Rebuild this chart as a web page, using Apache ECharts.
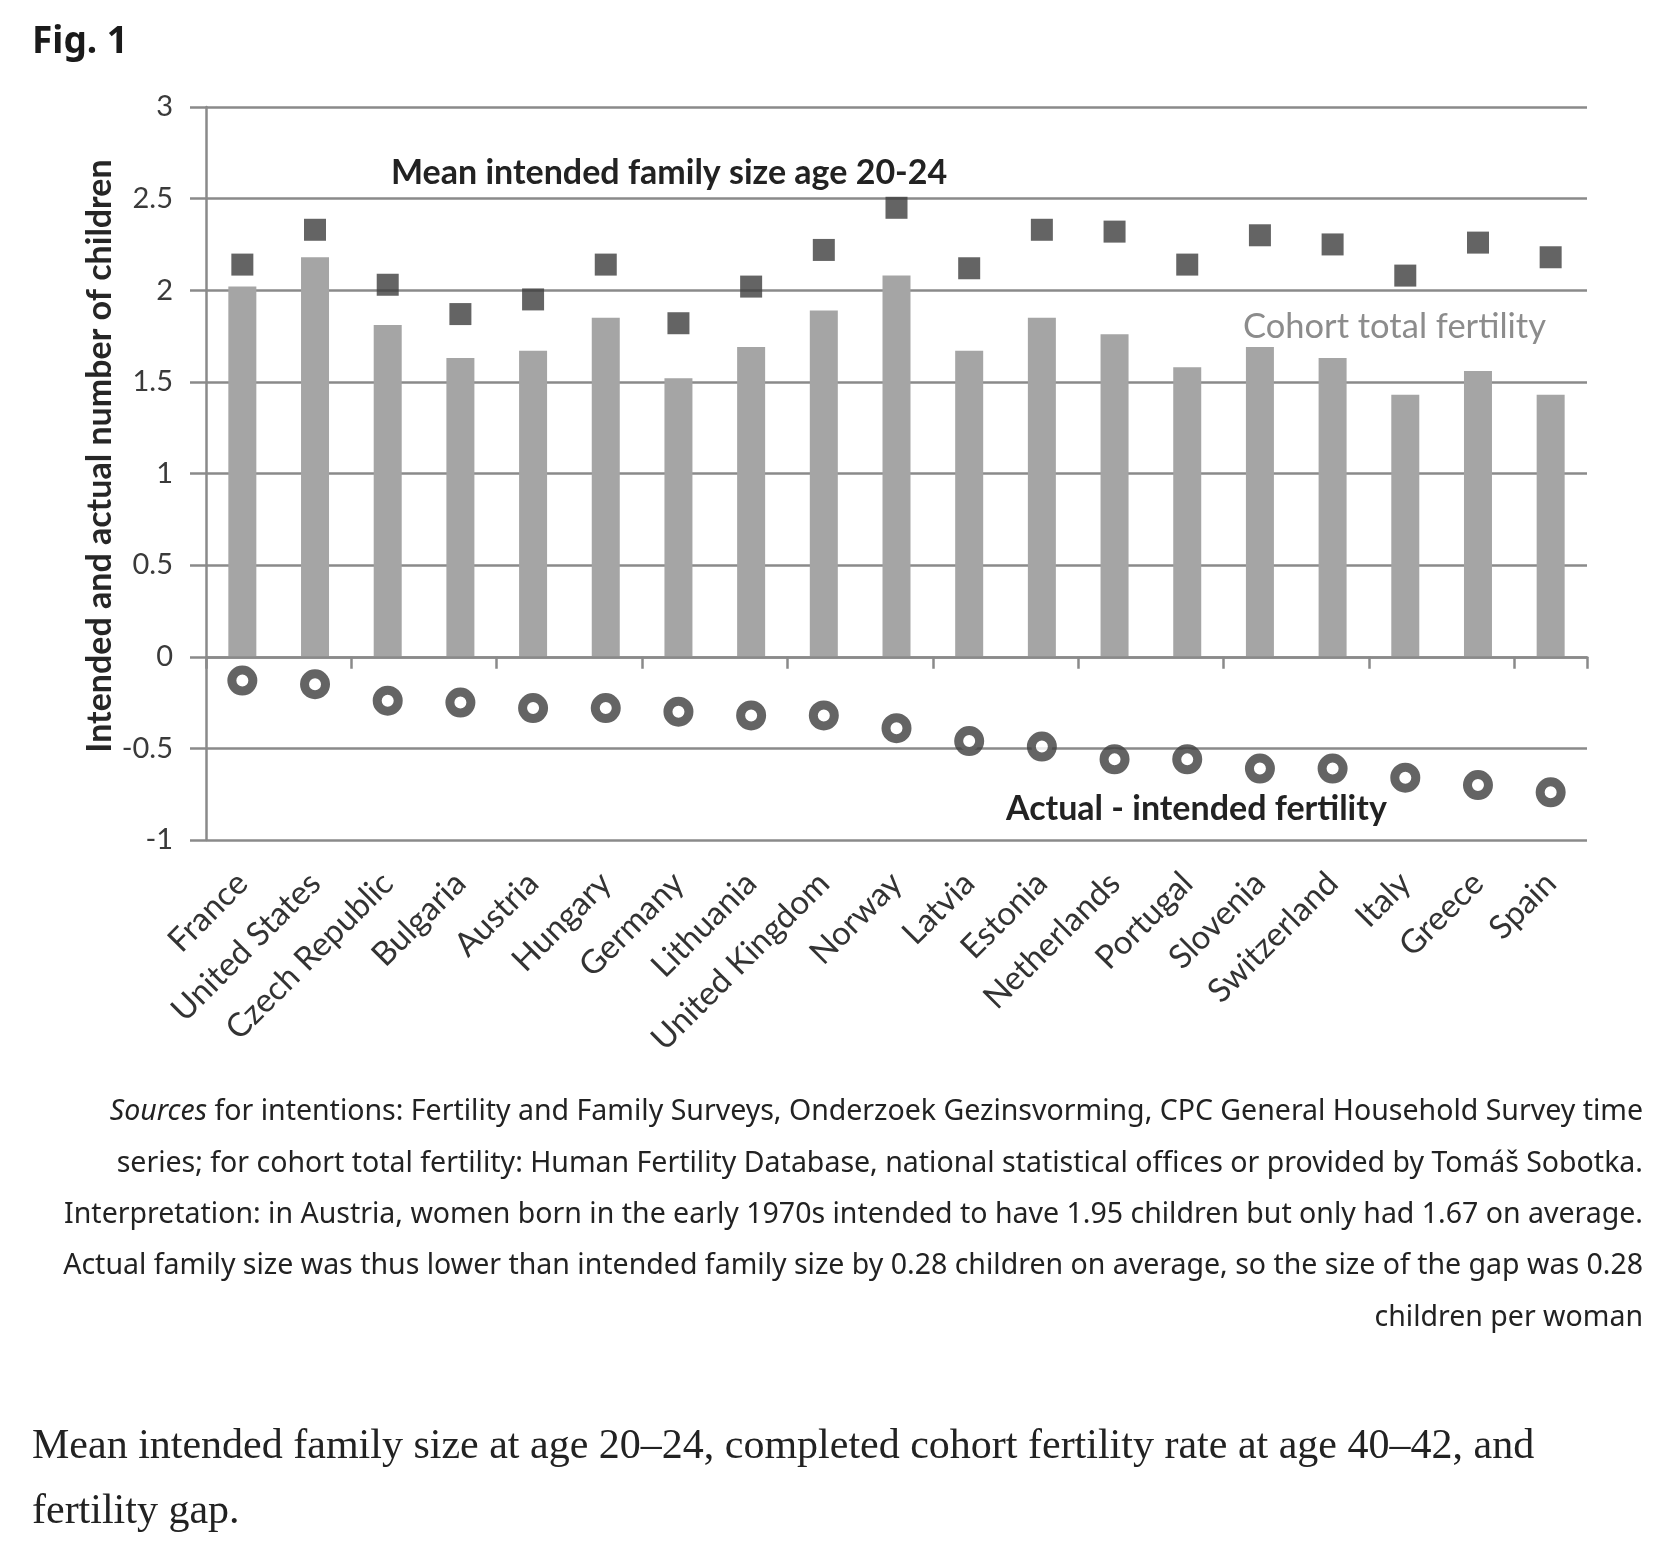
<!DOCTYPE html>
<html>
<head>
<meta charset="utf-8">
<script src="https://cdn.jsdelivr.net/npm/echarts@6/dist/echarts.min.js"></script>
<style>
  html, body { margin: 0; padding: 0; background: #fff; }
  #chart { width: 1656px; height: 1548px; }
</style>
</head>
<body>
<div id="chart"></div>
<script>
// ---- data ----
const countries = ['France', 'United States', 'Czech Republic', 'Bulgaria', 'Austria', 'Hungary', 'Germany',
  'Lithuania', 'United Kingdom', 'Norway', 'Latvia', 'Estonia', 'Netherlands', 'Portugal', 'Slovenia',
  'Switzerland', 'Italy', 'Greece', 'Spain'];
const cohortTotalFertility = [2.02, 2.18, 1.81, 1.63, 1.67, 1.85, 1.52, 1.69, 1.89, 2.08, 1.67, 1.85, 1.76, 1.58,
  1.69, 1.63, 1.43, 1.56, 1.43];
const meanIntendedSize = [2.14, 2.33, 2.03, 1.87, 1.95, 2.14, 1.82, 2.02, 2.22, 2.45, 2.12, 2.33, 2.32, 2.14,
  2.30, 2.25, 2.08, 2.26, 2.18];
const actualMinusIntended = [-0.13, -0.15, -0.24, -0.25, -0.28, -0.28, -0.30, -0.32, -0.32, -0.39, -0.46, -0.49,
  -0.56, -0.56, -0.61, -0.61, -0.66, -0.70, -0.74];
const yMin = -1, yMax = 3, yStep = 0.5;

const figTitle = 'Fig. 1';
const yAxisTitle = 'Intended and actual number of children';
const labelIntended = 'Mean intended family size age 20-24';
const labelCohort = 'Cohort total fertility';
const labelGap = 'Actual - intended fertility';
const sourceLines = [
  '{i|Sources} for intentions: Fertility and Family Surveys, Onderzoek Gezinsvorming, CPC General Household Survey time',
  'series; for cohort total fertility: Human Fertility Database, national statistical offices or provided by Tomáš Sobotka.',
  'Interpretation: in Austria, women born in the early 1970s intended to have 1.95 children but only had 1.67 on average.',
  'Actual family size was thus lower than intended family size by 0.28 children on average, so the size of the gap was 0.28',
  'children per woman'
];
const captionLines = [
  'Mean intended family size at age 20–24, completed cohort fertility rate at age 40–42, and',
  'fertility gap.'
];

// ---- chart ----
const chartFont = 'Lato';
const gridColor = '#8a8a8a';
const chart = echarts.init(document.getElementById('chart'));

const graphics = [
  { type: 'text', left: 32, top: 24, style: { text: figTitle, font: 'bold 37px "Noto Sans"', fill: '#1a1a1a' } },
  { type: 'text', x: 100, y: 456, rotation: Math.PI / 2,
    style: { text: yAxisTitle, font: 'bold 34px ' + chartFont, fill: '#262626', textAlign: 'center', textVerticalAlign: 'middle' } },
  { type: 'text', x: 391, y: 173, z: 10,
    style: { text: labelIntended, font: 'bold 34px ' + chartFont, fill: '#222', textAlign: 'left', textVerticalAlign: 'middle' } },
  { type: 'text', x: 1243, y: 327, z: 10,
    style: { text: labelCohort, font: '34.5px ' + chartFont, fill: '#8c8c8c', textAlign: 'left', textVerticalAlign: 'middle' } },
  { type: 'text', x: 1006, y: 809, z: 10,
    style: { text: labelGap, font: 'bold 34px ' + chartFont, fill: '#222', textAlign: 'left', textVerticalAlign: 'middle' } }
];
const sourceY = [1112, 1164, 1215, 1266, 1318];
sourceLines.forEach((t, i) => {
  graphics.push({ type: 'text', x: 1643, y: sourceY[i],
    style: { text: t, font: '28.5px "Noto Sans"', fill: '#222', textAlign: 'right', textVerticalAlign: 'middle',
      rich: { i: { fontStyle: 'italic', fontFamily: 'Noto Sans', fontSize: 28.5, fill: '#222' } } } });
});
const captionY = [1447, 1512];
captionLines.forEach((t, i) => {
  graphics.push({ type: 'text', x: 32, y: captionY[i],
    style: { text: t, font: '42px "Liberation Serif"', fill: '#222', textAlign: 'left', textVerticalAlign: 'middle' } });
});

chart.setOption({
  animation: false,
  backgroundColor: '#fff',
  grid: { left: 206, right: 69, top: 107, bottom: 708, containLabel: false },
  xAxis: [
    {
      type: 'category', data: countries, position: 'bottom', boundaryGap: true,
      axisLine: { show: true, onZero: true, lineStyle: { color: gridColor, width: 2.5 } },
      axisTick: { show: true, inside: false, length: 12, lineStyle: { color: gridColor, width: 2.5 } },
      axisLabel: { show: false }, splitLine: { show: false }, z: 3
    },
    {
      type: 'category', data: countries, position: 'bottom', boundaryGap: true,
      axisLine: { show: false, onZero: false }, axisTick: { show: false }, splitLine: { show: false },
      axisLabel: { show: true, rotate: 45, interval: 0, margin: 38, fontFamily: chartFont, fontSize: 33, color: '#333' }
    }
  ],
  yAxis: {
    type: 'value', min: yMin, max: yMax, interval: yStep,
    axisLine: { show: true, lineStyle: { color: gridColor, width: 2.5 } },
    axisTick: { show: true, length: 16, lineStyle: { color: gridColor, width: 2.5 } },
    axisLabel: { margin: 33, fontFamily: chartFont, fontSize: 29, color: '#3a3a3a' },
    splitLine: { show: true, lineStyle: { color: gridColor, width: 2.5 } }
  },
  series: [
    { name: 'Cohort total fertility', type: 'bar', xAxisIndex: 0, data: cohortTotalFertility, barWidth: 28,
      itemStyle: { color: '#a5a5a5' }, z: 2 },
    { name: 'Mean intended family size', type: 'scatter', xAxisIndex: 0, data: meanIntendedSize,
      symbol: 'rect', symbolSize: 22, itemStyle: { color: '#3d3d3d' }, z: 4 },
    { name: 'Actual - intended fertility', type: 'scatter', xAxisIndex: 0, data: actualMinusIntended,
      symbol: 'circle', symbolSize: 21, itemStyle: { color: '#fff', borderColor: '#3d3d3d', borderWidth: 9 }, z: 4 }
  ],
  graphic: graphics
});
</script>
</body>
</html>
